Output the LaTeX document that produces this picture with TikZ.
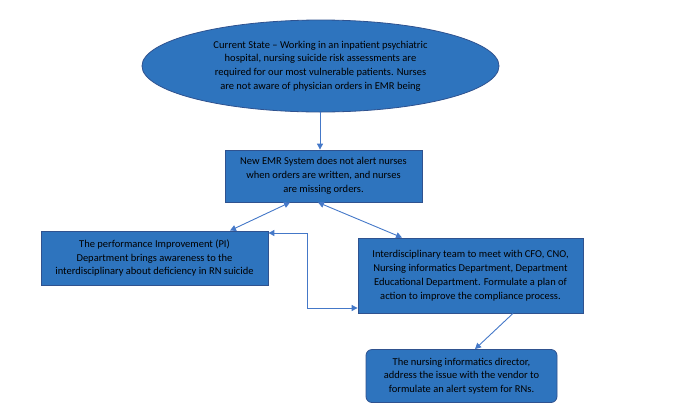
\documentclass[tikz,border=0pt]{standalone}
\usepackage{fontspec}
\setmainfont{Carlito}
\usetikzlibrary{shapes.geometric,arrows.meta}
\definecolor{boxfill}{RGB}{46,116,190}
\definecolor{boxline}{RGB}{47,82,143}
\definecolor{arrowc}{RGB}{68,120,200}
\tikzset{
  every node/.style={font=\fontsize{10.5}{13.8}\selectfont, text=black, align=center},
  box/.style={draw=boxline, fill=boxfill, line width=0.8pt, rectangle, inner sep=0pt},
  conn/.style={draw=arrowc, line width=0.9pt, -{Triangle[length=6pt,width=6pt]}},
  dconn/.style={draw=arrowc, line width=0.9pt, {Triangle[length=6pt,width=6pt]}-{Triangle[length=6pt,width=6pt]}}
}
\begin{document}
\begin{tikzpicture}[x=1pt,y=-1pt]
\useasboundingbox (0,0) rectangle (678,408);
\node[box, ellipse, minimum width=357pt, minimum height=92pt] (cur) at (320.5,66)
 {Current State -- Working in an inpatient psychiatric\\ hospital, nursing suicide risk assessments are\\ required for our most vulnerable patients. Nurses\\ are not aware of physician orders in EMR being};
\node[box, minimum width=197pt, minimum height=52pt] (emr) at (323.5,176)
 {New EMR System does not alert nurses\\ when orders are written, and nurses\\ are missing orders.};
\node[box, minimum width=227pt, minimum height=54pt] (pi) at (154.5,258)
 {The performance Improvement (PI)\\ Department brings awareness to the\\ interdisciplinary about deficiency in RN suicide};
\node[box, minimum width=225pt, minimum height=75pt] (team) at (470.5,275.5)
 {Interdisciplinary team to meet with CFO, CNO,\\ Nursing informatics Department, Department\\ Educational Department. Formulate a plan of\\ action to improve the compliance process.};
\node[box, rounded corners=6pt, minimum width=191pt, minimum height=53pt] (dir) at (461.5,376)
 {The nursing informatics director,\\ address the issue with the vendor to\\ formulate an alert system for RNs.};
\coordinate (c1) at (307,233);
\coordinate (c2) at (307,308);
\draw[conn] (320,112) -- (emr.north -| 320,0);
\draw[dconn] (emr.south -| 290,0) -- (pi.north -| 230,0);
\draw[dconn] (emr.south -| 318,0) -- (team.north -| 402,0);
\draw[dconn] (pi.east |- c1) -- (c1) -- (c2) -- (team.west |- c2);
\draw[conn] (team.south -| 513,0) -- (dir.north -| 475,0);
\end{tikzpicture}
\end{document}
